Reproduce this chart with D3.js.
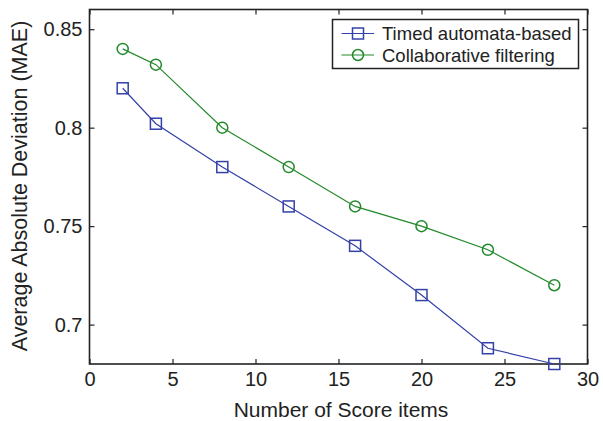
<!DOCTYPE html>
<head>
    <title>MAE vs score items</title>
    <script src="https://d3js.org/d3.v7.min.js"></script>
    <style>
        body { margin: 0; background: #fff; }
        text { font-family: "Liberation Sans", Arial, sans-serif; fill: #222; }
    </style>
</head>
<body>
    <div id="home"></div>
    <script>
        const items = [2, 4, 8, 12, 16, 20, 24, 28];
        const timedAutomata = [0.82, 0.802, 0.78, 0.76, 0.74, 0.715, 0.688, 0.68];
        const collabFilter = [0.84, 0.832, 0.80, 0.78, 0.76, 0.75, 0.738, 0.72];
        const xTicks = [0, 5, 10, 15, 20, 25, 30];
        const yTicks = [0.7, 0.75, 0.8, 0.85];

        const w = 603, h = 421;
        const plotL = 89.5, plotR = 587.5, plotT = 9.5, plotB = 364;
        const fs = "18.5px";     // legend
        const tickFs = "20px";

        const svg = d3.select("#home").append("svg")
            .attr("width", w).attr("height", h);

        const xScale = d3.scaleLinear().domain([0, 30]).range([plotL, plotR]);
        const yScale = d3.scaleLinear().domain([0.68, 0.86]).range([plotB, plotT]);

        // inward ticks on all four sides, like matlab
        const tickLen = 5;
        svg.append("g").attr("transform", `translate(0,${plotB})`)
            .call(d3.axisBottom(xScale).tickValues(xTicks).tickSize(-tickLen).tickPadding(8))
            .call(g => g.selectAll("text").style("font-size", tickFs));
        svg.append("g").attr("transform", `translate(0,${plotT})`)
            .call(d3.axisTop(xScale).tickValues(xTicks).tickSize(-tickLen).tickFormat(""));
        svg.append("g").attr("transform", `translate(${plotL},0)`)
            .call(d3.axisLeft(yScale).tickValues(yTicks).tickSize(-tickLen).tickPadding(7).tickFormat(d => String(d)))
            .call(g => g.selectAll("text").style("font-size", tickFs));
        svg.append("g").attr("transform", `translate(${plotR},0)`)
            .call(d3.axisRight(yScale).tickValues(yTicks).tickSize(-tickLen).tickFormat(""));
        svg.selectAll(".domain").remove();
        svg.selectAll(".tick line").attr("stroke", "#222").attr("stroke-width", 1.2);

        svg.append("rect")
            .attr("x", plotL).attr("y", plotT)
            .attr("width", plotR - plotL).attr("height", plotB - plotT)
            .attr("fill", "none").attr("stroke", "#222").attr("stroke-width", 1.6);

        const line = d3.line().x((d, i) => xScale(items[i])).y(d => yScale(d));

        const blue = "#3441a8", green = "#22892a";

        svg.append("path").datum(timedAutomata)
            .attr("d", line).attr("fill", "none").attr("stroke", blue).attr("stroke-width", 1.2);
        svg.append("path").datum(collabFilter)
            .attr("d", line).attr("fill", "none").attr("stroke", green).attr("stroke-width", 1.2);

        svg.selectAll(".sq").data(timedAutomata).enter().append("rect")
            .attr("x", (d, i) => xScale(items[i]) - 5.5)
            .attr("y", d => yScale(d) - 5.5)
            .attr("width", 11).attr("height", 11)
            .attr("fill", "none").attr("stroke", blue).attr("stroke-width", 1.5);
        svg.selectAll(".ci").data(collabFilter).enter().append("circle")
            .attr("cx", (d, i) => xScale(items[i]))
            .attr("cy", d => yScale(d))
            .attr("r", 5.5)
            .attr("fill", "none").attr("stroke", green).attr("stroke-width", 1.5);

        // legend
        const lg = svg.append("g");
        lg.append("rect").attr("x", 332.5).attr("y", 19.5).attr("width", 246).attr("height", 49)
            .attr("fill", "#fff").attr("stroke", "#222").attr("stroke-width", 1.5);
        lg.append("line").attr("x1", 341.5).attr("x2", 374).attr("y1", 33.5).attr("y2", 33.5)
            .attr("stroke", blue).attr("stroke-width", 1.2);
        lg.append("rect").attr("x", 352.5).attr("y", 28).attr("width", 11).attr("height", 11)
            .attr("fill", "none").attr("stroke", blue).attr("stroke-width", 1.5);
        lg.append("line").attr("x1", 341.5).attr("x2", 374).attr("y1", 55).attr("y2", 55)
            .attr("stroke", green).attr("stroke-width", 1.2);
        lg.append("circle").attr("cx", 358).attr("cy", 55).attr("r", 5.5)
            .attr("fill", "none").attr("stroke", green).attr("stroke-width", 1.5);
        lg.append("text").text("Timed automata-based").attr("x", 382).attr("y", 39.5)
            .style("font-size", fs);
        lg.append("text").text("Collaborative filtering").attr("x", 382).attr("y", 62)
            .style("font-size", fs);

        svg.append("text").text("Number of Score items")
            .attr("x", 341).attr("y", 416.5).attr("text-anchor", "middle")
            .style("font-size", "21px");
        svg.append("text").text("Average Absolute Deviation (MAE)")
            .attr("transform", "rotate(-90)")
            .attr("x", -186).attr("y", 27).attr("text-anchor", "middle")
            .style("font-size", "21.5px");
    </script>
</body>
